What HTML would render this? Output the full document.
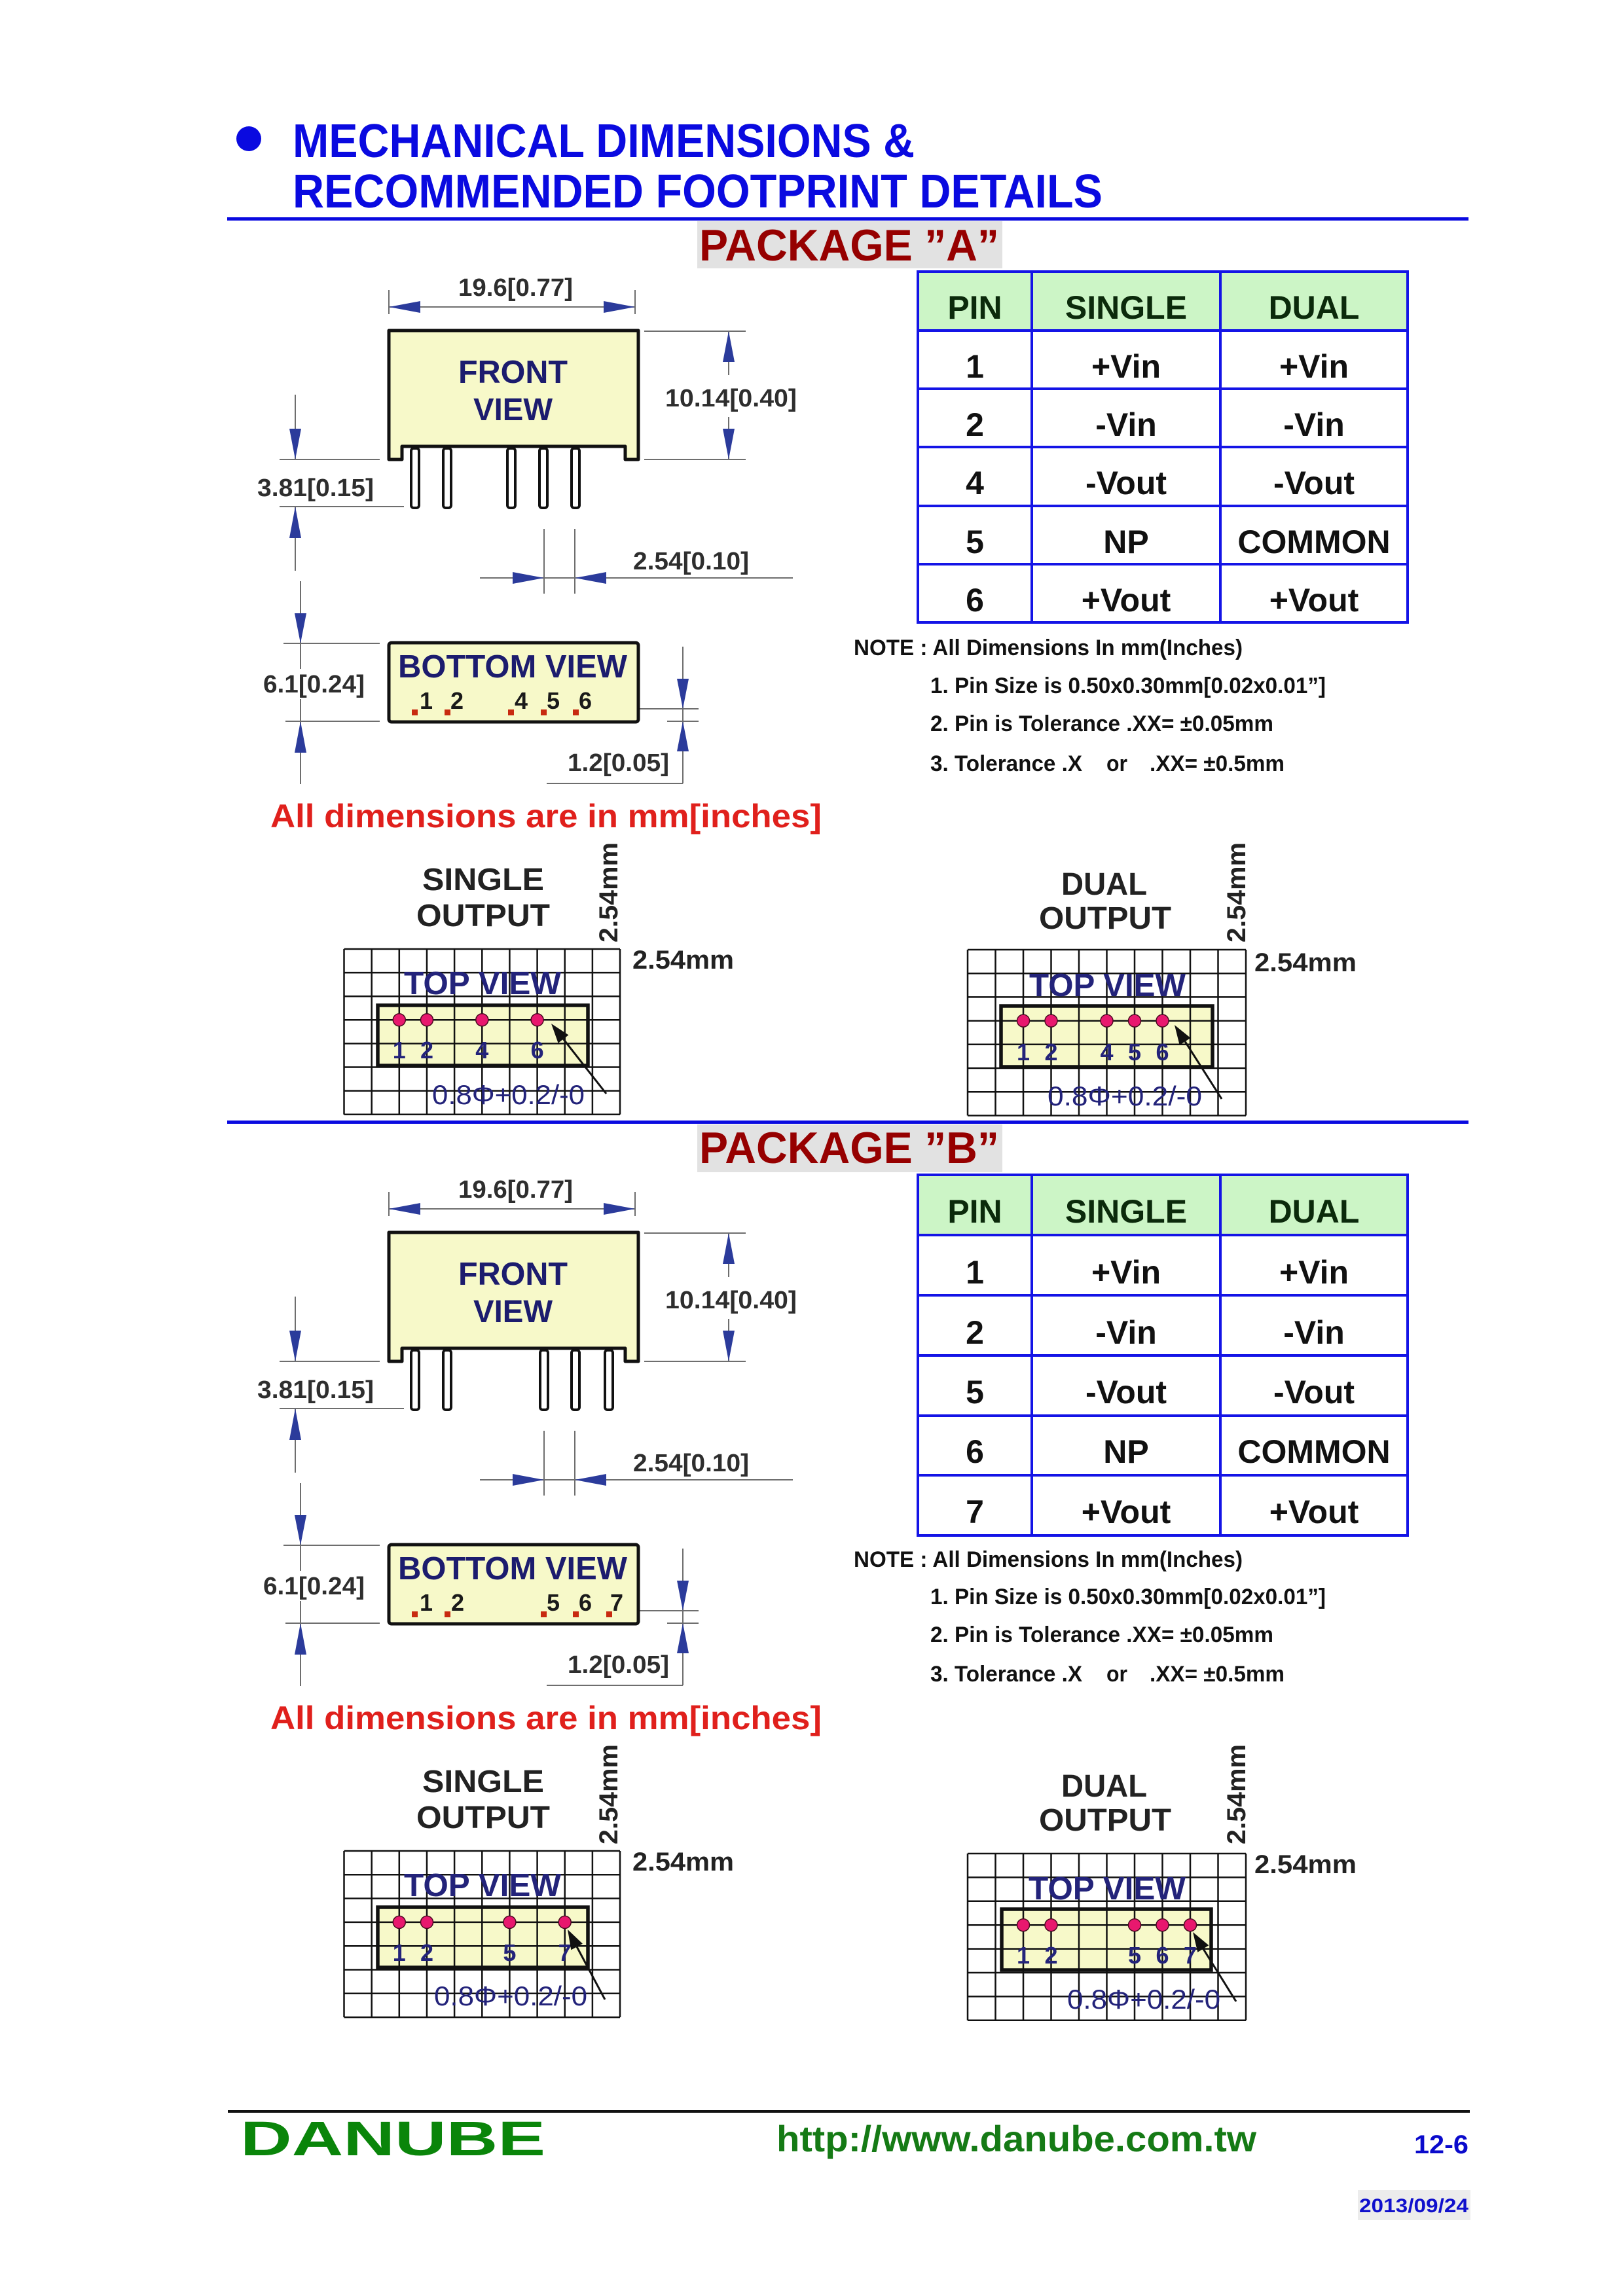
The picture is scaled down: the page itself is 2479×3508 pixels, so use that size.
<!DOCTYPE html>
<html><head><meta charset="utf-8">
<style>
html,body{margin:0;padding:0;background:#fff;}
svg{display:block;}
text{font-family:"Liberation Sans",Arial,sans-serif;font-weight:bold;}
.dim{font-size:38px;fill:#2e2e2e;}
.ln{stroke:#6e6e6e;stroke-width:2;fill:none;}
.ar{fill:#2b3b9b;}
.nav{fill:#1c1c6e;}
.tv{fill:#23237a;}
.grid{stroke:#111;stroke-width:2.5;fill:none;}
.th{font-size:50px;fill:#0b2a0b;}
.td{font-size:50px;fill:#111;}
.note{font-size:34px;fill:#111;}
.blk{fill:#222;}
</style></head><body>
<svg width="2479" height="3508" viewBox="0 0 2479 3508" xmlns="http://www.w3.org/2000/svg">
<rect width="2479" height="3508" fill="#fff"/>

<!-- HEADER -->
<circle cx="380" cy="212" r="19" fill="#0a0ae0"/>
<text x="447" y="240" font-size="72" fill="#0a0ae0" textLength="950" lengthAdjust="spacingAndGlyphs">MECHANICAL DIMENSIONS &amp;</text>
<text x="447" y="317" font-size="72" fill="#0a0ae0" textLength="1237" lengthAdjust="spacingAndGlyphs">RECOMMENDED FOOTPRINT DETAILS</text>
<rect x="347" y="332" width="1896" height="5" fill="#0a0ae0"/>

<!-- PACKAGE A LABEL -->
<rect x="1065" y="338" width="466" height="72" fill="#e2e2e2"/>
<text x="1068" y="398" font-size="68" fill="#960000" textLength="458" lengthAdjust="spacingAndGlyphs">PACKAGE ”A”</text>

<!-- PACKAGE A FRONT / BOTTOM -->
<g>
<path class="ln" d="M594 443V480M970 443V480M594 469H970M984 506H1139M984 702H1139M1113 506V573M1113 637V702M427 702H580M427 774H617M451 603V702M451 774V872M831 808V907M878 808V907M733 883H1211M433 983H580M436 1102H580M459 888V1022M459 1068V1198M950 1083H1067M1019 1102H1067M1043 988V1197M835 1197H1043"/>
<path class="ar" d="M594 469L642 460L642 478ZM970 469L922 460L922 478ZM1113 506L1104 553L1122 553ZM1113 702L1104 655L1122 655ZM451 702L442 655L460 655ZM451 774L442 822L460 822ZM831 883L783 874L783 892ZM878 883L926 874L926 892ZM459 983L450 937L468 937ZM459 1102L450 1150L468 1150ZM1043 1083L1034 1037L1052 1037ZM1043 1102L1034 1148L1052 1148Z"/>
<path d="M594 505H975V702H955V682H614V702H594Z" fill="#f7f9c9" stroke="#111" stroke-width="5" stroke-linejoin="round"/>
<g fill="#fff" stroke="#111" stroke-width="4">
<rect x="628" y="685" width="12" height="91" rx="4"/>
<rect x="677" y="685" width="12" height="91" rx="4"/>
<rect x="775" y="685" width="12" height="91" rx="4"/>
<rect x="824" y="685" width="12" height="91" rx="4"/>
<rect x="873" y="685" width="12" height="91" rx="4"/>
</g>
<text class="nav" x="700" y="585" font-size="49" textLength="167" lengthAdjust="spacingAndGlyphs">FRONT</text>
<text class="nav" x="723" y="642" font-size="48" textLength="121" lengthAdjust="spacingAndGlyphs">VIEW</text>
<text class="dim" x="700" y="452" textLength="175" lengthAdjust="spacingAndGlyphs">19.6[0.77]</text>
<text class="dim" x="1016" y="621" textLength="201" lengthAdjust="spacingAndGlyphs">10.14[0.40]</text>
<text class="dim" x="393" y="758" textLength="178" lengthAdjust="spacingAndGlyphs">3.81[0.15]</text>
<text class="dim" x="967" y="870" textLength="177" lengthAdjust="spacingAndGlyphs">2.54[0.10]</text>
<text class="dim" x="402" y="1058" textLength="155" lengthAdjust="spacingAndGlyphs">6.1[0.24]</text>
<text class="dim" x="867" y="1178" textLength="155" lengthAdjust="spacingAndGlyphs">1.2[0.05]</text>
<rect x="594" y="982" width="381" height="121" rx="4" fill="#f7f9c9" stroke="#111" stroke-width="5"/>
<text class="nav" x="608" y="1035" font-size="49" textLength="350" lengthAdjust="spacingAndGlyphs">BOTTOM VIEW</text>
<g fill="#c82a10">
<rect x="629" y="1084" width="9" height="9"/><rect x="679" y="1084" width="9" height="9"/><rect x="776" y="1084" width="9" height="9"/><rect x="826" y="1084" width="9" height="9"/><rect x="875" y="1084" width="9" height="9"/>
</g>
<g font-size="36" fill="#1a1a1a" text-anchor="middle">
<text x="651" y="1083">1</text><text x="698" y="1083">2</text><text x="796" y="1083">4</text><text x="845" y="1083">5</text><text x="894" y="1083">6</text>
</g>
<text x="413" y="1264" font-size="50" fill="#e0201c" textLength="842" lengthAdjust="spacingAndGlyphs">All dimensions are in mm[inches]</text>
</g>

<!-- TABLE A -->
<rect x="1402" y="415" width="748" height="90" fill="#ccf5c6"/>
<rect x="1402" y="505" width="748" height="446" fill="#fff"/>
<path d="M1402 415H2150V951H1402ZM1576 415V951M1864 415V951M1402 505H2150M1402 594H2150M1402 683H2150M1402 773H2150M1402 862H2150" fill="none" stroke="#1414e6" stroke-width="4"/>
<g text-anchor="middle">
<text class="th" x="1489" y="487">PIN</text><text class="th" x="1720" y="487">SINGLE</text><text class="th" x="2007" y="487">DUAL</text>
<text class="td" x="1489" y="577">1</text><text class="td" x="1720" y="577">+Vin</text><text class="td" x="2007" y="577">+Vin</text>
<text class="td" x="1489" y="666">2</text><text class="td" x="1720" y="666">-Vin</text><text class="td" x="2007" y="666">-Vin</text>
<text class="td" x="1489" y="755">4</text><text class="td" x="1720" y="755">-Vout</text><text class="td" x="2007" y="755">-Vout</text>
<text class="td" x="1489" y="845">5</text><text class="td" x="1720" y="845">NP</text><text class="td" x="2007" y="845">COMMON</text>
<text class="td" x="1489" y="934">6</text><text class="td" x="1720" y="934">+Vout</text><text class="td" x="2007" y="934">+Vout</text>
</g>
<text class="note" x="1304" y="1001" textLength="594" lengthAdjust="spacingAndGlyphs">NOTE : All Dimensions In mm(Inches)</text>
<text class="note" x="1421" y="1059" textLength="604" lengthAdjust="spacingAndGlyphs">1. Pin Size is 0.50x0.30mm[0.02x0.01”]</text>
<text class="note" x="1421" y="1117" textLength="524" lengthAdjust="spacingAndGlyphs">2. Pin is Tolerance .XX= ±0.05mm</text>
<text class="note" x="1421" y="1178" textLength="232" lengthAdjust="spacingAndGlyphs">3. Tolerance .X</text>
<text class="note" x="1690" y="1178" textLength="32" lengthAdjust="spacingAndGlyphs">or</text>
<text class="note" x="1756" y="1178" textLength="206" lengthAdjust="spacingAndGlyphs">.XX= ±0.5mm</text>

<!-- SINGLE OUTPUT A -->
<text class="blk" x="645" y="1360" font-size="48" textLength="186" lengthAdjust="spacingAndGlyphs">SINGLE</text>
<text class="blk" x="636" y="1415" font-size="48" textLength="204" lengthAdjust="spacingAndGlyphs">OUTPUT</text>
<text class="blk" transform="translate(943,1440) rotate(-90)" x="0" y="0" font-size="40" textLength="153" lengthAdjust="spacingAndGlyphs">2.54mm</text>
<text class="blk" x="966" y="1480" font-size="40" textLength="155" lengthAdjust="spacingAndGlyphs">2.54mm</text>
<rect x="577" y="1536" width="321" height="92" fill="#f7f9c9"/>
<path class="grid" d="M525.5 1450V1702.7M567.7 1450V1702.7M609.8 1450V1702.7M652 1450V1702.7M694.1 1450V1702.7M736.3 1450V1702.7M778.4 1450V1702.7M820.6 1450V1702.7M862.7 1450V1702.7M904.9 1450V1702.7M947 1450V1702.7M525.5 1450H947M525.5 1486.1H947M525.5 1522.2H947M525.5 1558.3H947M525.5 1594.4H947M525.5 1630.5H947M525.5 1666.6H947M525.5 1702.7H947"/>
<rect x="577" y="1536" width="321" height="92" fill="none" stroke="#111" stroke-width="5.5"/>
<text class="tv" x="617" y="1519" font-size="49" textLength="240" lengthAdjust="spacingAndGlyphs">TOP VIEW</text>
<g fill="#e8186e" stroke="#4a0a20" stroke-width="1.5">
<circle cx="609.8" cy="1558.3" r="9.5"/><circle cx="652" cy="1558.3" r="9.5"/><circle cx="736.3" cy="1558.3" r="9.5"/><circle cx="820.6" cy="1558.3" r="9.5"/>
</g>
<g class="tv" font-size="36" text-anchor="middle">
<text x="609.8" y="1617">1</text><text x="652" y="1617">2</text><text x="736.3" y="1617">4</text><text x="820.6" y="1617">6</text>
</g>
<line x1="926" y1="1671" x2="860.5" y2="1587.6" stroke="#111" stroke-width="3"/>
<path d="M842 1564L868.4 1581.4L852.6 1593.8Z" fill="#111"/>
<text x="660" y="1687" font-size="42" style="font-weight:normal" fill="#23237a" textLength="233" lengthAdjust="spacingAndGlyphs">0.8Φ+0.2/-0</text>

<!-- DUAL OUTPUT A -->
<text class="blk" x="1621" y="1367" font-size="48" textLength="131" lengthAdjust="spacingAndGlyphs">DUAL</text>
<text class="blk" x="1587" y="1419" font-size="48" textLength="202" lengthAdjust="spacingAndGlyphs">OUTPUT</text>
<text class="blk" transform="translate(1902,1440) rotate(-90)" x="0" y="0" font-size="40" textLength="153" lengthAdjust="spacingAndGlyphs">2.54mm</text>
<text class="blk" x="1916" y="1484" font-size="40" textLength="156" lengthAdjust="spacingAndGlyphs">2.54mm</text>
<rect x="1529" y="1537" width="323" height="93" fill="#f7f9c9"/>
<path class="grid" d="M1478 1451V1704.4M1520.5 1451V1704.4M1563 1451V1704.4M1605.5 1451V1704.4M1648 1451V1704.4M1690.5 1451V1704.4M1733 1451V1704.4M1775.5 1451V1704.4M1818 1451V1704.4M1860.5 1451V1704.4M1903 1451V1704.4M1478 1451H1903M1478 1487.2H1903M1478 1523.4H1903M1478 1559.6H1903M1478 1595.8H1903M1478 1632H1903M1478 1668.2H1903M1478 1704.4H1903"/>
<rect x="1529" y="1537" width="323" height="93" fill="none" stroke="#111" stroke-width="5.5"/>
<text class="tv" x="1572" y="1522" font-size="49" textLength="239" lengthAdjust="spacingAndGlyphs">TOP VIEW</text>
<g fill="#e8186e" stroke="#4a0a20" stroke-width="1.5">
<circle cx="1563" cy="1559.6" r="9.5"/><circle cx="1605.5" cy="1559.6" r="9.5"/><circle cx="1690.5" cy="1559.6" r="9.5"/><circle cx="1733" cy="1559.6" r="9.5"/><circle cx="1775.5" cy="1559.6" r="9.5"/>
</g>
<g class="tv" font-size="36" text-anchor="middle">
<text x="1563" y="1620">1</text><text x="1605.5" y="1620">2</text><text x="1690.5" y="1620">4</text><text x="1733" y="1620">5</text><text x="1775.5" y="1620">6</text>
</g>
<line x1="1866" y1="1679" x2="1810.1" y2="1591.3" stroke="#111" stroke-width="3"/>
<path d="M1794 1566L1818.5 1585.9L1801.7 1596.7Z" fill="#111"/>
<text x="1600" y="1689" font-size="42" style="font-weight:normal" fill="#23237a" textLength="236" lengthAdjust="spacingAndGlyphs">0.8Φ+0.2/-0</text>

<!-- SEPARATOR + PACKAGE B LABEL -->
<rect x="347" y="1712" width="1896" height="5" fill="#0a0ae0"/>
<rect x="1065" y="1718" width="466" height="73" fill="#e2e2e2"/>
<text x="1068" y="1777" font-size="68" fill="#960000" textLength="458" lengthAdjust="spacingAndGlyphs">PACKAGE ”B”</text>

<!-- PACKAGE B FRONT / BOTTOM -->
<g transform="translate(0,1378)">
<path class="ln" d="M594 443V480M970 443V480M594 469H970M984 506H1139M984 702H1139M1113 506V573M1113 637V702M427 702H580M427 774H617M451 603V702M451 774V872M831 808V907M878 808V907M733 883H1211M433 983H580M436 1102H580M459 888V1022M459 1068V1198M950 1083H1067M1019 1102H1067M1043 988V1197M835 1197H1043"/>
<path class="ar" d="M594 469L642 460L642 478ZM970 469L922 460L922 478ZM1113 506L1104 553L1122 553ZM1113 702L1104 655L1122 655ZM451 702L442 655L460 655ZM451 774L442 822L460 822ZM831 883L783 874L783 892ZM878 883L926 874L926 892ZM459 983L450 937L468 937ZM459 1102L450 1150L468 1150ZM1043 1083L1034 1037L1052 1037ZM1043 1102L1034 1148L1052 1148Z"/>
<path d="M594 505H975V702H955V682H614V702H594Z" fill="#f7f9c9" stroke="#111" stroke-width="5" stroke-linejoin="round"/>
<g fill="#fff" stroke="#111" stroke-width="4">
<rect x="628" y="685" width="12" height="91" rx="4"/>
<rect x="677" y="685" width="12" height="91" rx="4"/>
<rect x="825" y="685" width="12" height="91" rx="4"/>
<rect x="873" y="685" width="12" height="91" rx="4"/>
<rect x="924" y="685" width="12" height="91" rx="4"/>
</g>
<text class="nav" x="700" y="585" font-size="49" textLength="167" lengthAdjust="spacingAndGlyphs">FRONT</text>
<text class="nav" x="723" y="642" font-size="48" textLength="121" lengthAdjust="spacingAndGlyphs">VIEW</text>
<text class="dim" x="700" y="452" textLength="175" lengthAdjust="spacingAndGlyphs">19.6[0.77]</text>
<text class="dim" x="1016" y="621" textLength="201" lengthAdjust="spacingAndGlyphs">10.14[0.40]</text>
<text class="dim" x="393" y="758" textLength="178" lengthAdjust="spacingAndGlyphs">3.81[0.15]</text>
<text class="dim" x="967" y="870" textLength="177" lengthAdjust="spacingAndGlyphs">2.54[0.10]</text>
<text class="dim" x="402" y="1058" textLength="155" lengthAdjust="spacingAndGlyphs">6.1[0.24]</text>
<text class="dim" x="867" y="1178" textLength="155" lengthAdjust="spacingAndGlyphs">1.2[0.05]</text>
<rect x="594" y="982" width="381" height="121" rx="4" fill="#f7f9c9" stroke="#111" stroke-width="5"/>
<text class="nav" x="608" y="1035" font-size="49" textLength="350" lengthAdjust="spacingAndGlyphs">BOTTOM VIEW</text>
<g fill="#c82a10">
<rect x="629" y="1084" width="9" height="9"/><rect x="679" y="1084" width="9" height="9"/><rect x="826" y="1084" width="9" height="9"/><rect x="875" y="1084" width="9" height="9"/><rect x="926" y="1084" width="9" height="9"/>
</g>
<g font-size="36" fill="#1a1a1a" text-anchor="middle">
<text x="651" y="1083">1</text><text x="699" y="1083">2</text><text x="845" y="1083">5</text><text x="894" y="1083">6</text><text x="942" y="1083">7</text>
</g>
<text x="413" y="1264" font-size="50" fill="#e0201c" textLength="842" lengthAdjust="spacingAndGlyphs">All dimensions are in mm[inches]</text>
</g>

<!-- TABLE B -->
<rect x="1402" y="1795" width="748" height="92" fill="#ccf5c6"/>
<rect x="1402" y="1887" width="748" height="459" fill="#fff"/>
<path d="M1402 1795H2150V2346H1402ZM1576 1795V2346M1864 1795V2346M1402 1887H2150M1402 1979H2150M1402 2071H2150M1402 2163H2150M1402 2254H2150" fill="none" stroke="#1414e6" stroke-width="4"/>
<g text-anchor="middle">
<text class="th" x="1489" y="1868">PIN</text><text class="th" x="1720" y="1868">SINGLE</text><text class="th" x="2007" y="1868">DUAL</text>
<text class="td" x="1489" y="1961">1</text><text class="td" x="1720" y="1961">+Vin</text><text class="td" x="2007" y="1961">+Vin</text>
<text class="td" x="1489" y="2053">2</text><text class="td" x="1720" y="2053">-Vin</text><text class="td" x="2007" y="2053">-Vin</text>
<text class="td" x="1489" y="2144">5</text><text class="td" x="1720" y="2144">-Vout</text><text class="td" x="2007" y="2144">-Vout</text>
<text class="td" x="1489" y="2235">6</text><text class="td" x="1720" y="2235">NP</text><text class="td" x="2007" y="2235">COMMON</text>
<text class="td" x="1489" y="2327">7</text><text class="td" x="1720" y="2327">+Vout</text><text class="td" x="2007" y="2327">+Vout</text>
</g>
<text class="note" x="1304" y="2394" textLength="594" lengthAdjust="spacingAndGlyphs">NOTE : All Dimensions In mm(Inches)</text>
<text class="note" x="1421" y="2451" textLength="604" lengthAdjust="spacingAndGlyphs">1. Pin Size is 0.50x0.30mm[0.02x0.01”]</text>
<text class="note" x="1421" y="2509" textLength="524" lengthAdjust="spacingAndGlyphs">2. Pin is Tolerance .XX= ±0.05mm</text>
<text class="note" x="1421" y="2569" textLength="232" lengthAdjust="spacingAndGlyphs">3. Tolerance .X</text>
<text class="note" x="1690" y="2569" textLength="32" lengthAdjust="spacingAndGlyphs">or</text>
<text class="note" x="1756" y="2569" textLength="206" lengthAdjust="spacingAndGlyphs">.XX= ±0.5mm</text>

<!-- SINGLE OUTPUT B -->
<text class="blk" x="645" y="2738" font-size="48" textLength="186" lengthAdjust="spacingAndGlyphs">SINGLE</text>
<text class="blk" x="636" y="2793" font-size="48" textLength="204" lengthAdjust="spacingAndGlyphs">OUTPUT</text>
<text class="blk" transform="translate(943,2818) rotate(-90)" x="0" y="0" font-size="40" textLength="153" lengthAdjust="spacingAndGlyphs">2.54mm</text>
<text class="blk" x="966" y="2858" font-size="40" textLength="155" lengthAdjust="spacingAndGlyphs">2.54mm</text>
<rect x="577" y="2914" width="321" height="92" fill="#f7f9c9"/>
<path class="grid" d="M525.5 2828V3082.1M567.7 2828V3082.1M609.8 2828V3082.1M652 2828V3082.1M694.1 2828V3082.1M736.3 2828V3082.1M778.4 2828V3082.1M820.6 2828V3082.1M862.7 2828V3082.1M904.9 2828V3082.1M947 2828V3082.1M525.5 2828H947M525.5 2864.3H947M525.5 2900.6H947M525.5 2936.9H947M525.5 2973.2H947M525.5 3009.5H947M525.5 3045.8H947M525.5 3082.1H947"/>
<rect x="577" y="2914" width="321" height="92" fill="none" stroke="#111" stroke-width="5.5"/>
<text class="tv" x="617" y="2897" font-size="49" textLength="240" lengthAdjust="spacingAndGlyphs">TOP VIEW</text>
<g fill="#e8186e" stroke="#4a0a20" stroke-width="1.5">
<circle cx="609.8" cy="2936.9" r="9.5"/><circle cx="652" cy="2936.9" r="9.5"/><circle cx="778.4" cy="2936.9" r="9.5"/><circle cx="862.7" cy="2936.9" r="9.5"/>
</g>
<g class="tv" font-size="36" text-anchor="middle">
<text x="609.8" y="2996">1</text><text x="652" y="2996">2</text><text x="778.4" y="2996">5</text><text x="862.7" y="2996">7</text>
</g>
<line x1="924" y1="3055" x2="881.1" y2="2974.5" stroke="#111" stroke-width="3"/>
<path d="M867 2948L889.9 2969.8L872.3 2979.2Z" fill="#111"/>
<text x="663" y="3064" font-size="42" style="font-weight:normal" fill="#23237a" textLength="234" lengthAdjust="spacingAndGlyphs">0.8Φ+0.2/-0</text>

<!-- DUAL OUTPUT B -->
<text class="blk" x="1621" y="2745" font-size="48" textLength="131" lengthAdjust="spacingAndGlyphs">DUAL</text>
<text class="blk" x="1587" y="2797" font-size="48" textLength="202" lengthAdjust="spacingAndGlyphs">OUTPUT</text>
<text class="blk" transform="translate(1902,2818) rotate(-90)" x="0" y="0" font-size="40" textLength="153" lengthAdjust="spacingAndGlyphs">2.54mm</text>
<text class="blk" x="1916" y="2862" font-size="40" textLength="156" lengthAdjust="spacingAndGlyphs">2.54mm</text>
<rect x="1530" y="2917" width="320" height="93" fill="#f7f9c9"/>
<path class="grid" d="M1478 2832V3086.8M1520.5 2832V3086.8M1563 2832V3086.8M1605.5 2832V3086.8M1648 2832V3086.8M1690.5 2832V3086.8M1733 2832V3086.8M1775.5 2832V3086.8M1818 2832V3086.8M1860.5 2832V3086.8M1903 2832V3086.8M1478 2832H1903M1478 2868.4H1903M1478 2904.8H1903M1478 2941.2H1903M1478 2977.6H1903M1478 3014H1903M1478 3050.4H1903M1478 3086.8H1903"/>
<rect x="1530" y="2917" width="320" height="93" fill="none" stroke="#111" stroke-width="5.5"/>
<text class="tv" x="1571" y="2902" font-size="49" textLength="240" lengthAdjust="spacingAndGlyphs">TOP VIEW</text>
<g fill="#e8186e" stroke="#4a0a20" stroke-width="1.5">
<circle cx="1563" cy="2941.2" r="9.5"/><circle cx="1605.5" cy="2941.2" r="9.5"/><circle cx="1733" cy="2941.2" r="9.5"/><circle cx="1775.5" cy="2941.2" r="9.5"/><circle cx="1818" cy="2941.2" r="9.5"/>
</g>
<g class="tv" font-size="36" text-anchor="middle">
<text x="1563" y="3000">1</text><text x="1605.5" y="3000">2</text><text x="1733" y="3000">5</text><text x="1775.5" y="3000">6</text><text x="1818" y="3000">7</text>
</g>
<line x1="1888" y1="3058" x2="1837.8" y2="2977.5" stroke="#111" stroke-width="3"/>
<path d="M1822 2952L1846.3 2972.2L1829.3 2982.8Z" fill="#111"/>
<text x="1630" y="3069" font-size="42" style="font-weight:normal" fill="#23237a" textLength="234" lengthAdjust="spacingAndGlyphs">0.8Φ+0.2/-0</text>

<!-- FOOTER -->
<rect x="348" y="3224" width="1897" height="4" fill="#111"/>
<text x="367" y="3293" font-size="74" fill="#0a850a" textLength="466" lengthAdjust="spacingAndGlyphs">DANUBE</text>
<text x="1186" y="3287" font-size="56" fill="#157a15" textLength="733" lengthAdjust="spacingAndGlyphs">http://www.danube.com.tw</text>
<text x="2160" y="3290" font-size="40" fill="#0a0acc" textLength="83" lengthAdjust="spacingAndGlyphs">12-6</text>
<rect x="2074" y="3346" width="172" height="46" fill="#ececec"/>
<text x="2076" y="3380" font-size="30" fill="#1010cc" textLength="167" lengthAdjust="spacingAndGlyphs">2013/09/24</text>
</svg>
</body></html>
